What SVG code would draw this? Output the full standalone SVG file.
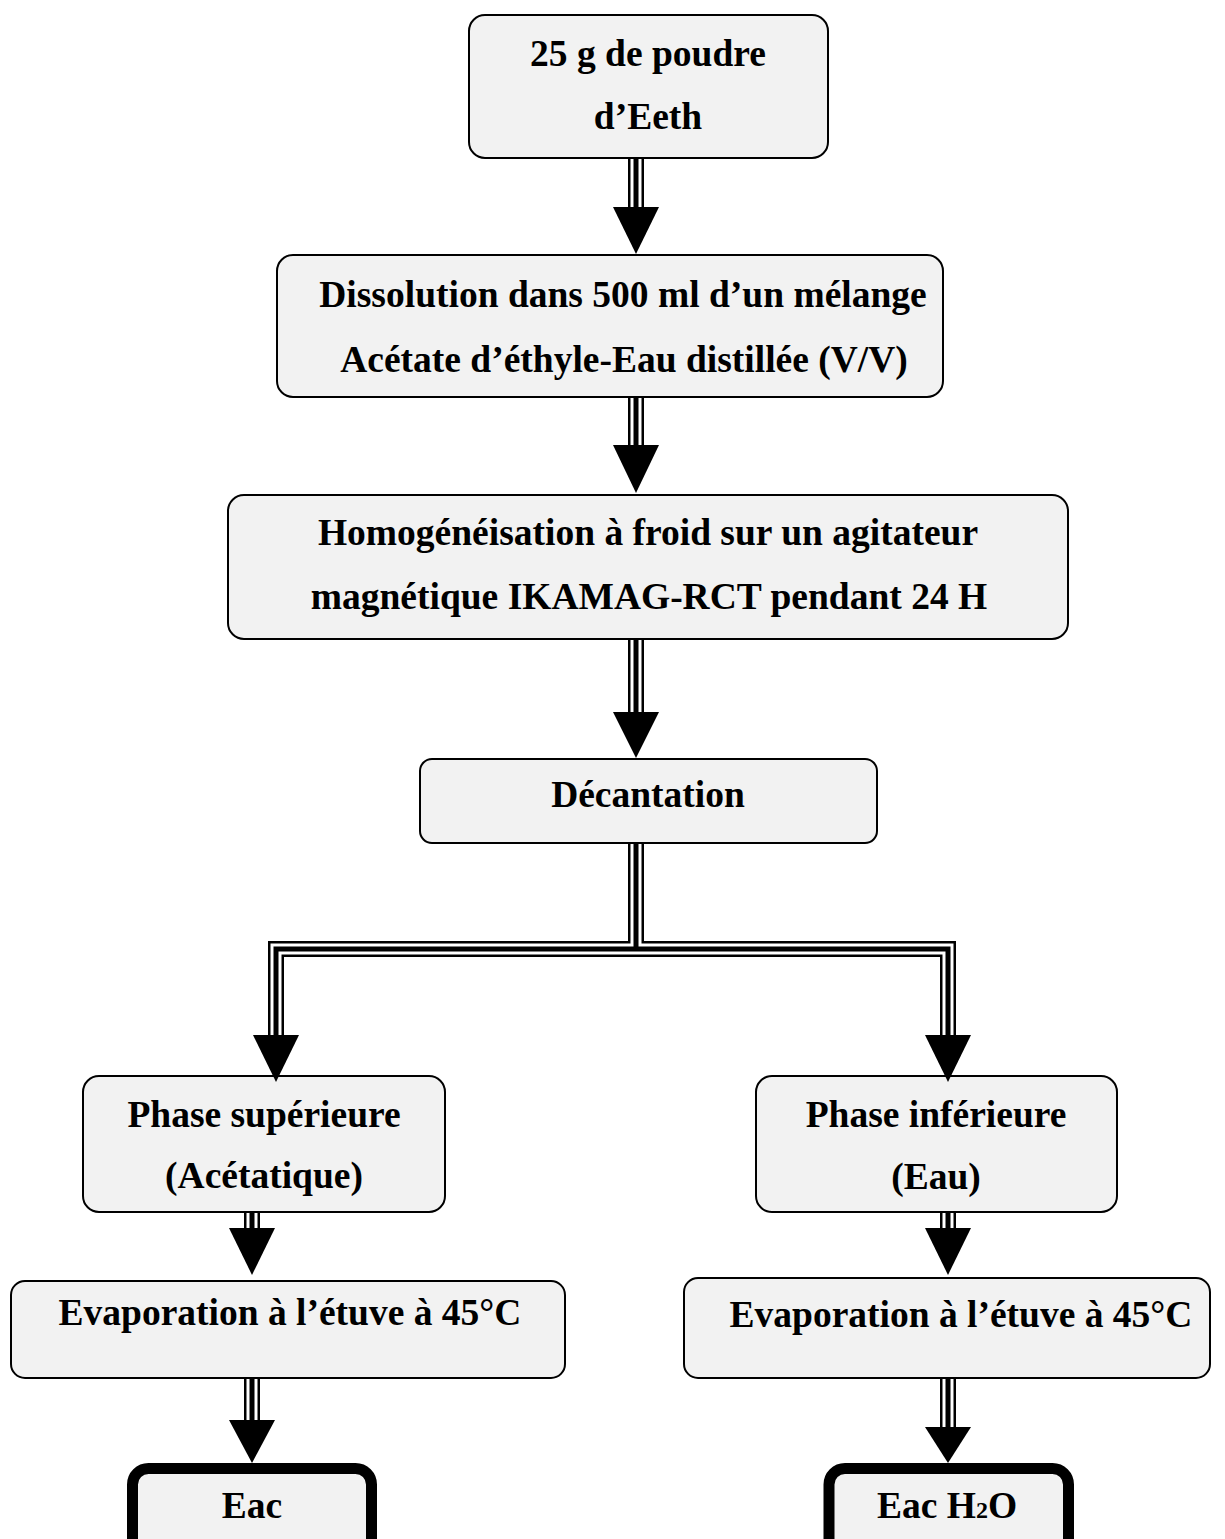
<svg xmlns="http://www.w3.org/2000/svg" width="1225" height="1539" viewBox="0 0 1225 1539">
<style>
.box{fill:#f2f2f2;stroke:#000;stroke-width:2}
.fin{fill:#f2f2f2;stroke:#000;stroke-width:11}
text{font-family:"Liberation Serif","Times New Roman",serif;font-weight:bold;font-size:37.5px;fill:#000;text-anchor:middle}
.o{fill:none;stroke:#000;stroke-width:16;stroke-linejoin:miter;stroke-linecap:butt}
.w{fill:none;stroke:#fff;stroke-width:11;stroke-linejoin:miter;stroke-linecap:butt}
.c{fill:none;stroke:#000;stroke-width:5;stroke-linejoin:miter;stroke-linecap:butt}
.head{fill:#000}
</style>
<defs>
<path id="shafts" d="M636 159V208 M636 398V446 M636 640V713 M636 844V949 M276 1036V949H948V1036 M252 1213V1229 M948 1213V1229 M252 1379V1421 M948 1379V1428"/>
</defs>
<rect width="1225" height="1539" fill="#fff"/>
<g id="n1"><rect class="box" x="469" y="15" width="359" height="143" rx="16"/><text x="648" y="66">25 g de poudre</text><text x="648" y="129">d’Eeth</text></g>
<g id="n2"><rect class="box" x="277" y="255" width="666" height="142" rx="16"/><text x="623" y="307">Dissolution dans 500 ml d’un mélange</text><text x="624" y="372">Acétate d’éthyle-Eau distillée (V/V)</text></g>
<g id="n3"><rect class="box" x="228" y="495" width="840" height="144" rx="16"/><text x="648" y="545">Homogénéisation à froid sur un agitateur</text><text x="649" y="609">magnétique IKAMAG-RCT pendant 24 H</text></g>
<g id="n4"><rect class="box" x="420" y="759" width="457" height="84" rx="12"/><text x="648" y="807">Décantation</text></g>
<g id="n5"><rect class="box" x="83" y="1076" width="362" height="136" rx="16"/><text x="264" y="1127">Phase supérieure</text><text x="264" y="1188">(Acétatique)</text></g>
<g id="n6"><rect class="box" x="756" y="1076" width="361" height="136" rx="16"/><text x="936" y="1127">Phase inférieure</text><text x="936" y="1189">(Eau)</text></g>
<g id="n7"><rect class="box" x="11" y="1281" width="554" height="97" rx="14"/><text x="290" y="1325">Evaporation à l’étuve à 45°C</text></g>
<g id="n8"><rect class="box" x="684" y="1278" width="526" height="100" rx="14"/><text x="961" y="1327">Evaporation à l’étuve à 45°C</text></g>
<g id="n9"><rect class="fin" x="132.5" y="1468.5" width="239" height="100" rx="16"/><text x="252" y="1518">Eac</text></g>
<g id="n10"><rect class="fin" x="829" y="1468.5" width="239.5" height="100" rx="16"/><text x="947" y="1518">Eac H<tspan font-size="24">2</tspan>O</text></g>
<g id="connectors">
<use href="#shafts" class="o"/>
<use href="#shafts" class="w"/>
<use href="#shafts" class="c"/>
<polygon class="head" points="613,207 659,207 636,254"/>
<polygon class="head" points="613,445 659,445 636,493"/>
<polygon class="head" points="613,712 659,712 636,758"/>
<polygon class="head" points="253,1035 299,1035 276,1082"/>
<polygon class="head" points="925,1035 971,1035 948,1082"/>
<polygon class="head" points="229,1228 275,1228 252,1275"/>
<polygon class="head" points="925,1228 971,1228 948,1275"/>
<polygon class="head" points="229,1420 275,1420 252,1463"/>
<polygon class="head" points="925,1427 971,1427 948,1463"/>
</g>
</svg>
